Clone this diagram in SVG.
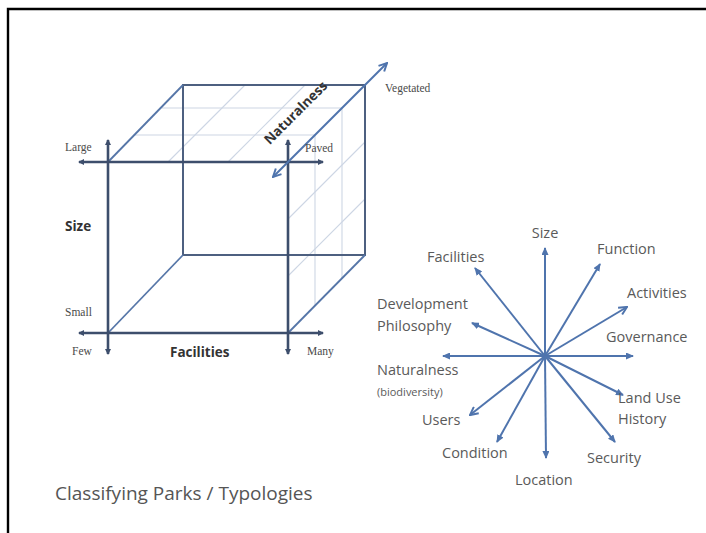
<svg xmlns="http://www.w3.org/2000/svg" width="706" height="533" viewBox="0 0 706 533">
  <style>
    .frame { stroke: #000; stroke-width: 2.4; fill: none; }
    .axis { stroke: #3d4e6c; stroke-width: 2.6; fill: none; }
    .edge { stroke: #4d6080; stroke-width: 2; fill: none; }
    .depth { stroke: #5676a8; stroke-width: 1.8; fill: none; }
    .grid { stroke: #cdd6e4; stroke-width: 1.1; fill: none; }
    .ray { stroke: #4f74ad; stroke-width: 2; fill: none; }
    .serif { font-family: "Liberation Serif", "DejaVu Serif", serif; font-size: 11.5px; fill: #4a4a4a; }
    .bold { font-family: "Open Sans", "Liberation Sans", sans-serif; font-size: 13.5px; font-weight: bold; fill: #333; }
    .lbl { font-family: "Open Sans", "Liberation Sans", sans-serif; font-size: 14.5px; fill: #5a5a5a; }
    .small { font-family: "Open Sans", "Liberation Sans", sans-serif; font-size: 11px; fill: #5a5a5a; }
    .title { font-family: "Open Sans", "Liberation Sans", sans-serif; font-size: 19px; fill: #555; }
  </style>
  <defs>
    <marker id="tipAxis" viewBox="0 0 6 6" refX="5" refY="3" markerWidth="6" markerHeight="6" markerUnits="userSpaceOnUse" orient="auto-start-reverse">
      <path d="M0,0 L6,3 L0,6 Z" fill="#3d4e6c"/>
    </marker>
    <marker id="tipRay" viewBox="0 0 8 7" refX="7" refY="3.5" markerWidth="8" markerHeight="7" markerUnits="userSpaceOnUse" orient="auto-start-reverse">
      <path d="M0,0 L8,3.5 L0,7 Z" fill="#4f74ad"/>
    </marker>
    <marker id="tipOpen" viewBox="0 0 10 10" refX="9" refY="5" markerWidth="10" markerHeight="10" markerUnits="userSpaceOnUse" orient="auto-start-reverse">
      <path d="M1,1 L9,5 L1,9" fill="none" stroke="#4f74ad" stroke-width="2" stroke-linejoin="miter"/>
    </marker>
  </defs>

  <!-- slide frame -->
  <path class="frame" d="M8,533 L8,9 L706,9"/>

  <!-- cube: faint grid on top and side faces -->
  <g id="cube-grid">
    <line class="grid" x1="135" y1="135" x2="315" y2="135"/>
    <line class="grid" x1="162" y1="108" x2="342" y2="108"/>
    <line class="grid" x1="168" y1="162" x2="245" y2="85"/>
    <line class="grid" x1="228" y1="162" x2="305" y2="85"/>
    <line class="grid" x1="315" y1="135" x2="315" y2="306"/>
    <line class="grid" x1="342" y1="108" x2="342" y2="279"/>
    <line class="grid" x1="288" y1="219" x2="365" y2="142"/>
    <line class="grid" x1="288" y1="276" x2="365" y2="199"/>
  </g>

  <!-- cube: back face and depth edges -->
  <g id="cube-back">
    <rect class="edge" x="183" y="85" width="182" height="170"/>
    <line class="depth" x1="108" y1="162" x2="183" y2="85"/>
    <line class="depth" x1="108" y1="333" x2="183" y2="255"/>
    <line class="depth" x1="288" y1="333" x2="365" y2="255"/>
  </g>

  <!-- cube: front face drawn as four axis lines -->
  <g id="cube-axes">
    <line class="axis" x1="79" y1="162" x2="323" y2="162" marker-start="url(#tipAxis)" marker-end="url(#tipAxis)"/>
    <line class="axis" x1="79" y1="333" x2="323" y2="333" marker-start="url(#tipAxis)" marker-end="url(#tipAxis)"/>
    <line class="axis" x1="108" y1="140" x2="108" y2="354" marker-start="url(#tipAxis)" marker-end="url(#tipAxis)"/>
    <line class="axis" x1="288" y1="140" x2="288" y2="354" marker-start="url(#tipAxis)" marker-end="url(#tipAxis)"/>
  </g>

  <!-- naturalness axis through the top-right depth edge -->
  <g id="naturalness-axis">
    <line class="ray" x1="273" y1="177" x2="387" y2="63" marker-start="url(#tipOpen)" marker-end="url(#tipOpen)"/>
    <text class="bold" transform="translate(299,116) rotate(-45)" text-anchor="middle">Naturalness</text>
  </g>

  <!-- cube labels -->
  <g id="cube-labels">
    <text class="serif" x="65" y="151">Large</text>
    <text class="serif" x="305" y="152">Paved</text>
    <text class="serif" x="385" y="92">Vegetated</text>
    <text class="serif" x="65" y="316">Small</text>
    <text class="serif" x="72" y="355">Few</text>
    <text class="serif" x="307" y="355">Many</text>
    <text class="bold" x="65" y="231">Size</text>
    <text class="bold" x="170" y="357">Facilities</text>
  </g>

  <!-- star of classification criteria -->
  <g id="star-rays">
    <line class="ray" x1="545" y1="356" x2="545" y2="248" marker-end="url(#tipRay)"/>
    <line class="ray" x1="545" y1="356" x2="600" y2="264" marker-end="url(#tipRay)"/>
    <line class="ray" x1="545" y1="356" x2="627" y2="307" marker-end="url(#tipOpen)"/>
    <line class="ray" x1="443" y1="356" x2="633" y2="356" marker-start="url(#tipRay)" marker-end="url(#tipRay)"/>
    <line class="ray" x1="545" y1="356" x2="475" y2="268" marker-end="url(#tipRay)"/>
    <line class="ray" x1="545" y1="356" x2="472" y2="323" marker-end="url(#tipRay)"/>
    <line class="ray" x1="545" y1="356" x2="470" y2="415" marker-end="url(#tipOpen)"/>
    <line class="ray" x1="545" y1="356" x2="497" y2="442" marker-end="url(#tipRay)"/>
    <line class="ray" x1="545" y1="356" x2="546" y2="458" marker-end="url(#tipRay)"/>
    <line class="ray" x1="545" y1="356" x2="615" y2="442" marker-end="url(#tipRay)"/>
    <line class="ray" x1="545" y1="356" x2="623" y2="395" marker-end="url(#tipRay)"/>
  </g>

  <g id="star-labels">
    <text class="lbl" x="545" y="238" text-anchor="middle">Size</text>
    <text class="lbl" x="597" y="254">Function</text>
    <text class="lbl" x="627" y="298">Activities</text>
    <text class="lbl" x="606" y="342">Governance</text>
    <text class="lbl" x="427" y="262">Facilities</text>
    <text class="lbl" x="377" y="309">Development</text>
    <text class="lbl" x="377" y="331">Philosophy</text>
    <text class="lbl" x="377" y="375">Naturalness</text>
    <text class="small" x="377" y="396">(biodiversity)</text>
    <text class="lbl" x="422" y="425">Users</text>
    <text class="lbl" x="442" y="458">Condition</text>
    <text class="lbl" x="515" y="485">Location</text>
    <text class="lbl" x="587" y="463">Security</text>
    <text class="lbl" x="618" y="403">Land Use</text>
    <text class="lbl" x="618" y="424">History</text>
  </g>

  <text class="title" x="55" y="500">Classifying Parks / Typologies</text>
</svg>
